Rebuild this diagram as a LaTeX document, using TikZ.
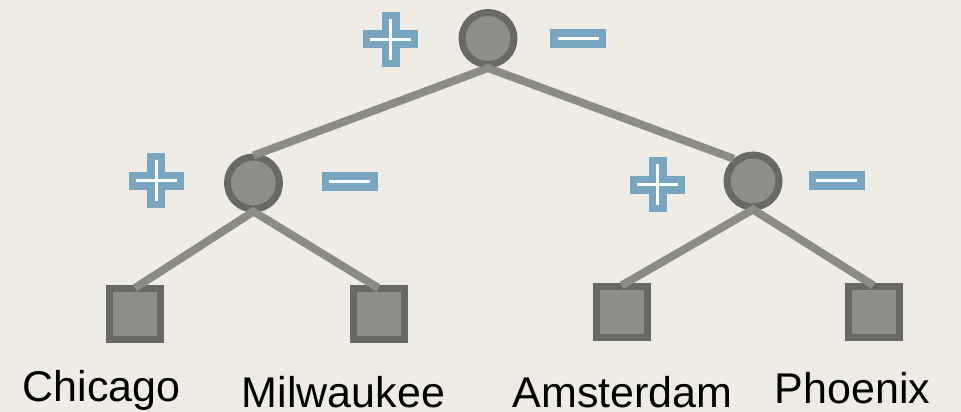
\documentclass[tikz,border=0pt]{standalone}
\usepackage{fontspec}
\setmainfont{Liberation Sans}
\definecolor{bg}{HTML}{EEECE5}
\definecolor{nodefill}{HTML}{8E8E88}
\definecolor{nodeedge}{HTML}{696963}
\definecolor{edgecol}{HTML}{8C8C85}
\definecolor{signblue}{HTML}{78A5C0}
\tikzset{
  chance/.style={circle, fill=nodefill, draw=nodeedge, line width=7pt, minimum size=52pt, inner sep=0pt},
  leaf/.style={rectangle, fill=nodefill, draw=nodeedge, line width=7pt, minimum size=51pt, inner sep=0pt},
  edge/.style={draw=edgecol, line width=8pt, line join=miter, line cap=butt},
  bluebar/.style={draw=signblue, line width=18pt, line cap=butt},
  whitebar/.style={draw=white, line width=3pt, line cap=butt},
  city/.style={anchor=base, inner sep=0pt, font=\fontsize{43}{50}\selectfont}
}
\newcommand{\plussign}[1]{%
  \draw[bluebar] ([xshift=-27.5pt]#1) -- ([xshift=27.5pt]#1);
  \draw[bluebar] ([yshift=-27.5pt]#1) -- ([yshift=27.5pt]#1);
  \draw[whitebar] ([xshift=-20.5pt]#1) -- ([xshift=20.5pt]#1);
  \draw[whitebar] ([yshift=-20.5pt]#1) -- ([yshift=20.5pt]#1);
}
\newcommand{\minussign}[1]{%
  \fill[signblue] ([xshift=-28pt,yshift=-9.5pt]#1) rectangle ([xshift=28pt,yshift=9.5pt]#1);
  \draw[whitebar] ([xshift=-20.5pt]#1) -- ([xshift=20.5pt]#1);
}
\begin{document}
\begin{tikzpicture}[x=1pt,y=-1pt]
\fill[bg] (0,0) rectangle (961,412);
\useasboundingbox (0,0) rectangle (961,412);

% decision nodes
\node[chance] (T) at (488,38.5) {};
\node[chance] (L) at (253.5,183) {};
\node[chance] (R) at (753,181) {};

% leaves
\node[leaf] (chi) at (135,314) {};
\node[leaf] (mil) at (378.5,314) {};
\node[leaf] (ams) at (621.5,311.5) {};
\node[leaf] (pho) at (873.5,311.5) {};

% edges
\draw[edge] ([yshift=-2pt]L.north) -- (T.south) -- ([xshift=-1pt,yshift=-1pt]R.128);
\draw[edge] ([yshift=-3pt]chi.north) -- ([yshift=1pt]L.south) -- ([yshift=-3pt]mil.north);
\draw[edge] ([yshift=-3pt]ams.north) -- ([yshift=1pt]R.south) -- ([yshift=-3pt]pho.north);

% signs
\coordinate (pT) at (390.5,39.5);
\coordinate (mT) at (578,38.5);
\coordinate (pL) at (156,180.5);
\coordinate (mL) at (349.5,181);
\coordinate (pR) at (657.5,184.5);
\coordinate (mR) at (836.5,180.5);
\plussign{pT}\minussign{mT}
\plussign{pL}\minussign{mL}
\plussign{pR}\minussign{mR}

% labels
\node[city] (tchi) at (101.5,401) {Chicago};
\node[city] (tmil) at (343.5,407) {Milwaukee};
\node[city] (tams) at (622.5,407) {Amsterdam};
\node[city] (tpho) at (852.5,403) {Phoenix};
\end{tikzpicture}
\end{document}
